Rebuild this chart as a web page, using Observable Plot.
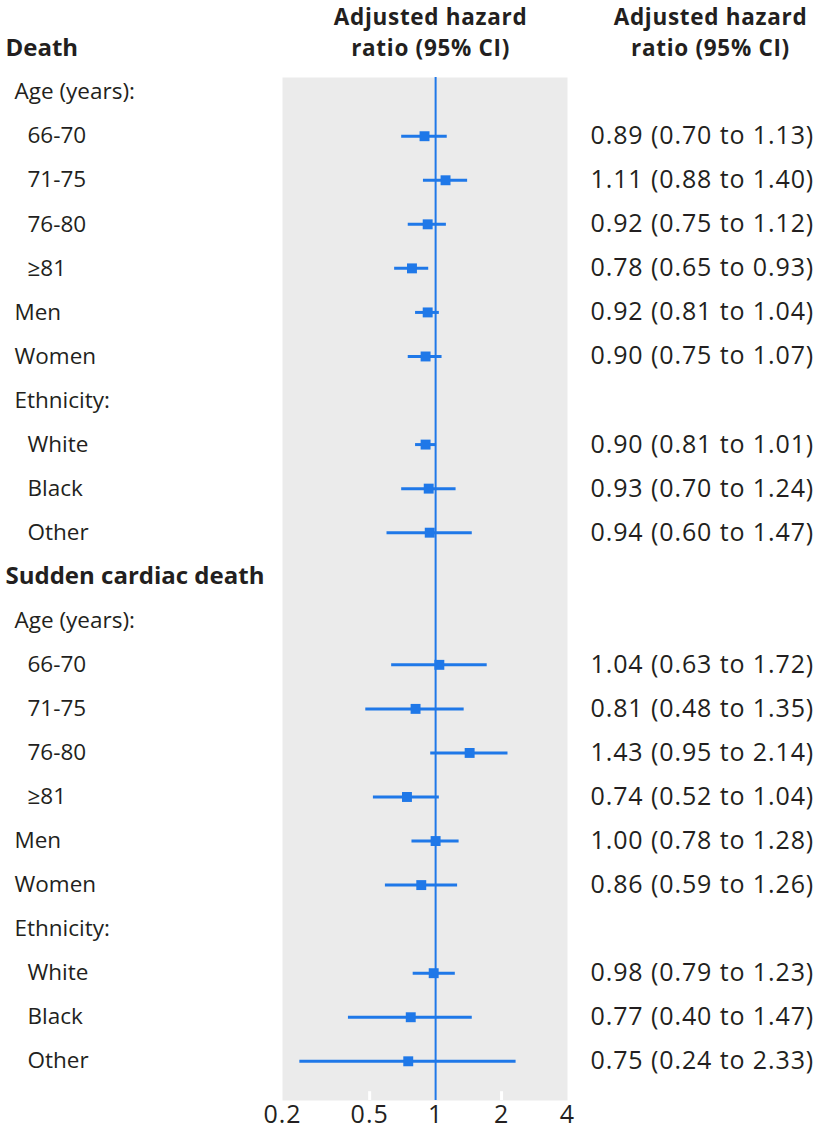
<!DOCTYPE html>
<html>
<head>
<meta charset="utf-8">
<script src="https://cdn.jsdelivr.net/npm/d3@7"></script>
<script src="https://cdn.jsdelivr.net/npm/@observablehq/plot@0.6"></script>
<style>
  html, body { margin: 0; padding: 0; background: #ffffff; }
  #chart { width: 820px; height: 1136px; }
</style>
</head>
<body>
<div id="chart"></div>
<script>
// Row labels (top to bottom)
const labels = [
  "Death", "Age (years):", "66-70", "71-75", "76-80", "≥81", "Men", "Women", "Ethnicity:", "White", "Black", "Other",
  "Sudden cardiac death", "Age (years):", "66-70", "71-75", "76-80", "≥81", "Men", "Women", "Ethnicity:", "White", "Black", "Other"
];
// Indent level of each label (0 = outcome heading, 1 = group, 2 = subgroup)
const levels = [0, 1, 2, 2, 2, 2, 1, 1, 1, 2, 2, 2, 0, 1, 2, 2, 2, 2, 1, 1, 1, 2, 2, 2];
// Adjusted hazard ratios and 95% CI (null = no estimate on that row)
const estimates = [null, null, 0.89, 1.11, 0.92, 0.78, 0.92, 0.90, null, 0.90, 0.93, 0.94,
                   null, null, 1.04, 0.81, 1.43, 0.74, 1.00, 0.86, null, 0.98, 0.77, 0.75];
const lowers    = [null, null, 0.70, 0.88, 0.75, 0.65, 0.81, 0.75, null, 0.81, 0.70, 0.60,
                   null, null, 0.63, 0.48, 0.95, 0.52, 0.78, 0.59, null, 0.79, 0.40, 0.24];
const uppers    = [null, null, 1.13, 1.40, 1.12, 0.93, 1.04, 1.07, null, 1.01, 1.24, 1.47,
                   null, null, 1.72, 1.35, 2.14, 1.04, 1.28, 1.26, null, 1.23, 1.47, 2.33];
const xTicks = [0.2, 0.5, 1, 2, 4];
const headerLine1 = "Adjusted hazard";
const headerLine2 = "ratio (95% CI)";

const rows = labels.map((label, i) => ({
  row: i, label, level: levels[i],
  est: estimates[i], lo: lowers[i], hi: uppers[i],
  ci: estimates[i] == null ? "" : `${estimates[i].toFixed(2)} (${lowers[i].toFixed(2)} to ${uppers[i].toFixed(2)})`
}));
const withEst = rows.filter(d => d.est != null);

const blue = "#1f78e8";
const ink = "#231f20";

const header = (text, dy, opts) => Plot.text([text], { frameAnchor: "top", lineAnchor: "middle", dy, fontWeight: "bold", fontSize: 22.5, fill: ink, ...opts });

const chart = Plot.plot({
  width: 820,
  height: 1136,
  marginLeft: 282,
  marginRight: 253,
  marginTop: 77,
  marginBottom: 36,
  style: { fontFamily: "'Open Sans', sans-serif", fontSize: "23px", color: ink, background: "#ffffff" },
  x: { type: "log", domain: [0.2, 4], label: null },
  y: { domain: [0.667, 23.89], axis: null, reverse: true },
  marks: [
    Plot.frame({ fill: "#ebebeb", stroke: null }),
    Plot.ruleX([0.5, 2], { y1: 23.69, y2: 23.89, stroke: "#ffffff", strokeWidth: 3 }),
    Plot.ruleX([1], { stroke: blue, strokeWidth: 2 }),
    Plot.ruleY(withEst, { x1: "lo", x2: "hi", y: "row", stroke: blue, strokeWidth: 3 }),
    Plot.dot(withEst, { x: "est", y: "row", symbol: "square", fill: blue, stroke: null, r: 5.6 }),
    Plot.axisX({ ticks: xTicks, tickFormat: d => String(d), tickSize: 0, tickPadding: 5, fontSize: 25, fill: ink, label: null }),
    Plot.text(rows.filter(d => d.level === 0), { y: "row", text: "label", frameAnchor: "left", textAnchor: "start", dx: -277, fontWeight: "bold", fontSize: 24, fill: ink }),
    Plot.text(rows.filter(d => d.level === 1), { y: "row", text: "label", frameAnchor: "left", textAnchor: "start", dx: -268, fontSize: 22.5, fill: ink }),
    Plot.text(rows.filter(d => d.level === 2), { y: "row", text: "label", frameAnchor: "left", textAnchor: "start", dx: -255, fontSize: 22.5, fill: ink }),
    Plot.text(withEst, { y: "row", text: "ci", frameAnchor: "right", textAnchor: "start", dx: 23, fontSize: 25, fill: ink }),
    header(headerLine1, -60, { x: 1, dx: -5 }),
    header(headerLine2, -29, { x: 1, dx: -5 }),
    header(headerLine1, -60, { frameAnchor: "top-right", textAnchor: "middle", dx: 143 }),
    header(headerLine2, -29, { frameAnchor: "top-right", textAnchor: "middle", dx: 143 })
  ]
});
// Widen the CI and header texts slightly (the reference face has wide figures)
const textGroups = chart.querySelectorAll("g[aria-label='text']");
textGroups[3].setAttribute("letter-spacing", "0.9");
for (let k = 4; k < 8; ++k) textGroups[k].setAttribute("letter-spacing", "0.7");
const tickGroup = chart.querySelector("g[aria-label='x-axis tick label']");
if (tickGroup) tickGroup.setAttribute("letter-spacing", "1");
document.getElementById("chart").appendChild(chart);
</script>
</body>
</html>
